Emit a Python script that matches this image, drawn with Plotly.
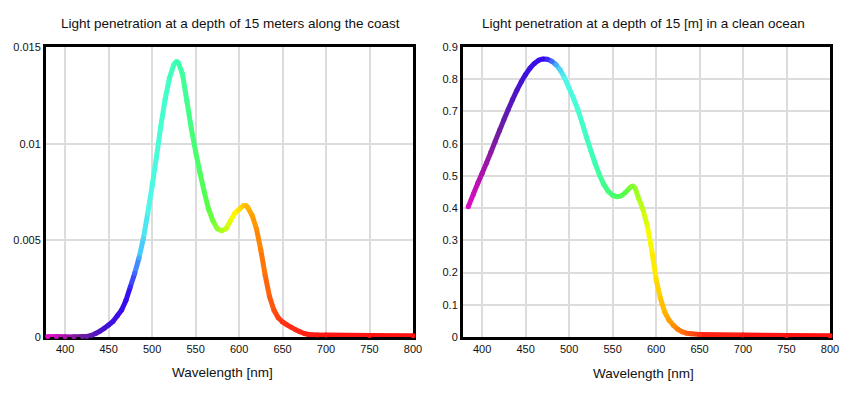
import plotly.graph_objects as go

# ---- data ----
coast_wl = [380, 390, 400, 410, 420, 425, 430, 435, 440, 445, 450, 455, 460, 465, 470, 475,
            480, 485, 490, 495, 500, 505, 510, 515, 520, 525, 528, 530, 535, 540, 545, 550,
            555, 560, 565, 570, 575, 580, 585, 590, 595, 600, 605, 608, 610, 615, 620, 625,
            630, 635, 640, 645, 650, 655, 660, 665, 670, 675, 680, 690, 700, 750, 800]
coast_val = [0.00002, 0.00002, 0.00001, 0.00001, 0.00002, 0.00003, 0.00008, 0.00018, 0.0003,
             0.00045, 0.00062, 0.0008, 0.0011, 0.0014, 0.0019, 0.0026, 0.0033, 0.0041, 0.0051,
             0.0064, 0.0078, 0.0093, 0.0109, 0.0123, 0.0134, 0.0141, 0.01425, 0.0142, 0.0136,
             0.0122, 0.0108, 0.0096, 0.0085, 0.0075, 0.0066, 0.0060, 0.0056, 0.0055, 0.0056,
             0.0060, 0.0064, 0.0066, 0.0068, 0.0068, 0.0067, 0.0063, 0.0056, 0.0045, 0.0032,
             0.0021, 0.0014, 0.0010, 0.00078, 0.00063, 0.0005, 0.00038, 0.00027, 0.00018,
             0.00013, 0.0001, 0.0001, 0.00008, 0.00007]

ocean_wl = [384, 390, 395, 400, 405, 410, 415, 420, 425, 430, 435, 440, 445, 450, 455, 460,
            465, 470, 475, 480, 485, 490, 495, 500, 505, 510, 515, 520, 525, 530, 535, 540,
            545, 550, 555, 560, 565, 570, 573, 576, 580, 585, 590, 595, 600, 605, 610, 615,
            620, 625, 630, 635, 640, 650, 700, 750, 800]
ocean_val = [0.404, 0.444, 0.477, 0.508, 0.540, 0.573, 0.607, 0.641, 0.674, 0.706, 0.737, 0.766,
             0.792, 0.815, 0.834, 0.849, 0.859, 0.863, 0.862, 0.856, 0.845, 0.828, 0.803, 0.773,
             0.741, 0.706, 0.664, 0.620, 0.578, 0.538, 0.502, 0.473, 0.452, 0.440, 0.435, 0.438,
             0.449, 0.463, 0.469, 0.462, 0.43, 0.395, 0.345, 0.27, 0.18, 0.12, 0.077, 0.052,
             0.036, 0.024, 0.016, 0.012, 0.01, 0.008, 0.006, 0.005, 0.004]

x_ticks = [400, 450, 500, 550, 600, 650, 700, 750, 800]
coast_yticks = [0, 0.005, 0.01, 0.015]
ocean_yticks = [0, 0.1, 0.2, 0.3, 0.4, 0.5, 0.6, 0.7, 0.8, 0.9]

title_left = "Light penetration at a depth of 15 meters along the coast"
title_right = "Light penetration at a depth of 15 [m] in a clean ocean"
x_title = "Wavelength [nm]"

# ---- spectral colour stops (style) ----
stops = [(380, (235, 10, 205)), (400, (170, 20, 170)), (420, (110, 30, 160)),
         (440, (75, 20, 200)), (455, (60, 15, 230)), (472, (55, 10, 240)),
         (479, (60, 90, 255)), (487, (75, 200, 250)), (495, (80, 245, 235)),
         (510, (70, 255, 210)), (530, (60, 255, 175)), (550, (70, 255, 110)),
         (565, (90, 255, 70)), (580, (170, 255, 30)), (594, (255, 250, 0)),
         (605, (255, 200, 0)), (615, (255, 160, 0)), (630, (255, 110, 10)),
         (650, (255, 50, 20)), (690, (255, 25, 20)), (800, (255, 15, 15))]


def spec_color(w):
    if w <= stops[0][0]:
        c = stops[0][1]
    elif w >= stops[-1][0]:
        c = stops[-1][1]
    else:
        for (w0, c0), (w1, c1) in zip(stops[:-1], stops[1:]):
            if w0 <= w <= w1:
                t = (w - w0) / (w1 - w0)
                c = tuple(c0[k] + (c1[k] - c0[k]) * t for k in range(3))
                break
    return "rgb(%d,%d,%d)" % tuple(int(round(v)) for v in c)


fig = go.Figure()


def add_curve(wl, val, xa, ya):
    for i in range(len(wl) - 1):
        mid = (wl[i] + wl[i + 1]) / 2
        fig.add_trace(go.Scatter(x=[wl[i], wl[i + 1]], y=[val[i], val[i + 1]], mode="lines",
                                 line=dict(color=spec_color(mid), width=5),
                                 xaxis=xa, yaxis=ya, showlegend=False, hoverinfo="skip",
                                 cliponaxis=False))
    fig.add_trace(go.Scatter(x=wl, y=val, mode="markers",
                             marker=dict(color=[spec_color(w) for w in wl], size=5,
                                         line=dict(width=0)),
                             xaxis=xa, yaxis=ya, showlegend=False, cliponaxis=False))


add_curve(coast_wl, coast_val, "x", "y")
add_curve(ocean_wl, ocean_val, "x2", "y2")

W, H = 850, 395
ydom = [1 - 337 / H, 1 - 47 / H]
axis_common = dict(showline=True, linecolor="black", linewidth=3, mirror=True,
                   showgrid=True, gridcolor="#dcdcdc", gridwidth=2, zeroline=False,
                   ticks="", tickfont=dict(family="Liberation Sans, Arial", size=11, color="#111"),
                   layer="below traces", automargin=False)

fig.update_layout(
    width=W, height=H, margin=dict(l=0, r=0, t=0, b=0, pad=0, autoexpand=False),
    paper_bgcolor="white", plot_bgcolor="white", showlegend=False,
    font=dict(family="Liberation Sans, Arial", color="#111"),
    xaxis=dict(domain=[46 / W, 413 / W], range=[378, 800], tickvals=x_ticks, anchor="y",
               **axis_common),
    yaxis=dict(domain=ydom, range=[0, 0.015], tickvals=coast_yticks, anchor="x",
               ticksuffix=" ", **axis_common),
    xaxis2=dict(domain=[463 / W, 830 / W], range=[378, 800], tickvals=x_ticks, anchor="y2",
                **axis_common),
    yaxis2=dict(domain=ydom, range=[0, 0.9], tickvals=ocean_yticks, anchor="x2",
                ticksuffix=" ", **axis_common),
    annotations=[
        dict(text=title_left, x=230.5 / W, y=1 - 24 / H, xref="paper", yref="paper",
             xanchor="center", yanchor="middle",
             showarrow=False, font=dict(size=13.5, color="#111")),
        dict(text=title_right, x=643 / W, y=1 - 24 / H, xref="paper", yref="paper",
             xanchor="center", yanchor="middle",
             showarrow=False, font=dict(size=13.5, color="#111")),
        dict(text=x_title, x=222 / W, y=1 - 372 / H, xref="paper", yref="paper",
             xanchor="center", yanchor="middle",
             showarrow=False, font=dict(size=13.5, color="#111")),
        dict(text=x_title, x=643 / W, y=1 - 373 / H, xref="paper", yref="paper",
             xanchor="center", yanchor="middle",
             showarrow=False, font=dict(size=13.5, color="#111")),
    ],
)

fig.write_html("out.html", config={"displayModeBar": False},
               post_script="document.body.style.margin='0';")
